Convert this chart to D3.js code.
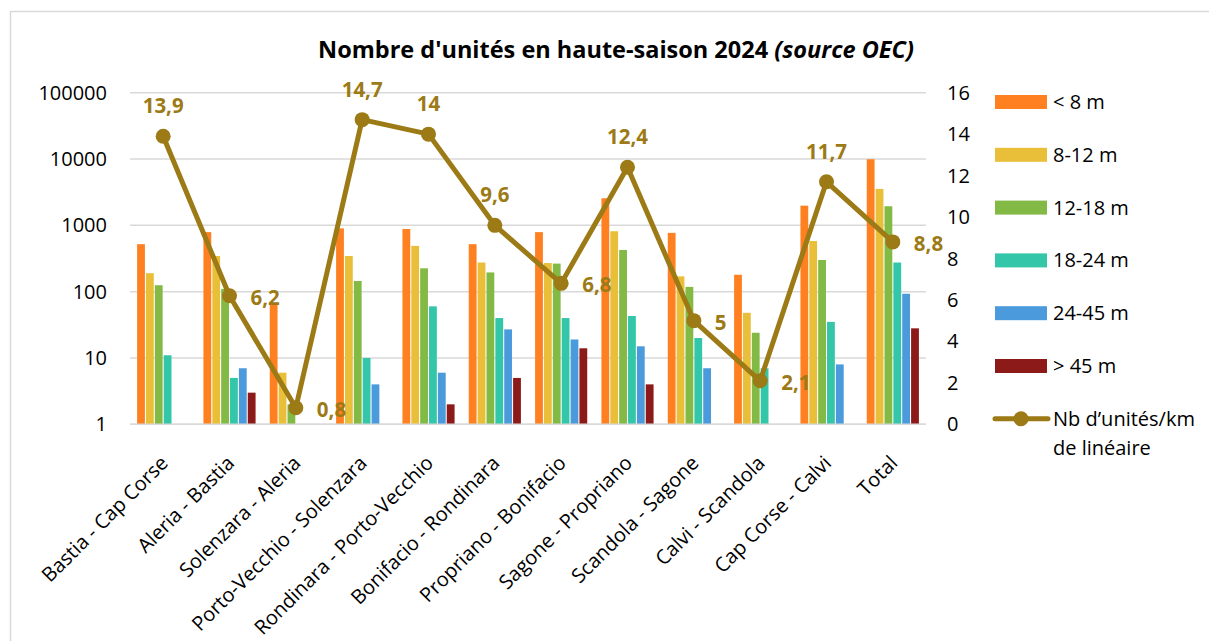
<!DOCTYPE html>
<html>
<head>
<meta charset="utf-8">
<script src="https://cdn.jsdelivr.net/npm/d3@7"></script>
<style>
  body { margin: 0; background: #fff; }
  svg text { font-family: "Open Sans", "Noto Sans", sans-serif; }
</style>
</head>
<body>
<div id="chart"></div>
<script>
"use strict";

// sections of coastline (x categories)
const sections = [
  "Bastia - Cap Corse", "Aleria - Bastia", "Solenzara - Aleria",
  "Porto-Vecchio - Solenzara", "Rondinara - Porto-Vecchio",
  "Bonifacio - Rondinara", "Propriano - Bonifacio", "Sagone - Propriano",
  "Scandola - Sagone", "Calvi - Scandola", "Cap Corse - Calvi", "Total"
];

// boat size classes
const sizeClasses = ["< 8 m", "8-12 m", "12-18 m", "18-24 m", "24-45 m", "> 45 m"];

// number of units per size class (0 = no bar)
const under8 = [520, 790, 65, 900, 880, 520, 790, 2560, 770, 180, 1980, 9930];
const from8to12 = [190, 345, 6, 345, 490, 275, 270, 815, 170, 48, 580, 3540];
const from12to18 = [125, 110, 2, 145, 225, 195, 265, 425, 118, 24, 300, 1940];
const from18to24 = [11, 5, 0, 10, 60, 40, 40, 43, 20, 7, 35, 275];
const from24to45 = [0, 7, 0, 4, 6, 27, 19, 15, 7, 0, 8, 93];
const over45 = [0, 3, 0, 0, 2, 5, 14, 4, 0, 0, 0, 28];

// units per km of coastline (right axis)
const unitsPerKm = [13.9, 6.2, 0.8, 14.7, 14, 9.6, 6.8, 12.4, 5, 2.1, 11.7, 8.8];
// where each data label sits
const labelSide = ["top", "right", "right", "top", "top", "top", "right", "top", "right", "right", "top", "right"];

const leftTicks = [1, 10, 100, 1000, 10000, 100000];
const rightTicks = [0, 2, 4, 6, 8, 10, 12, 14, 16];

const series = [under8, from8to12, from12to18, from18to24, from24to45, over45];
const colors = ["#FF8021", "#E9BF39", "#83BA46", "#34C6A9", "#4B9ADB", "#8B1A18"];
const lineColor = "#9C7A15";

const W = 1209, H = 641;
const plot = { left: 130, right: 926, top: 92.7, bottom: 424.3 };

const svg = d3.select("#chart").append("svg")
  .attr("width", W).attr("height", H);

// chart frame
svg.append("rect")
  .attr("x", 10.5).attr("y", 11.5)
  .attr("width", W + 20).attr("height", H + 20)
  .attr("fill", "none").attr("stroke", "#d9d9d9").attr("stroke-width", 1.5);

// title
const title = svg.append("text")
  .attr("x", 616).attr("y", 58)
  .attr("text-anchor", "middle")
  .style("font-size", "23.5px").style("font-weight", "bold").attr("fill", "#000");
title.append("tspan").text("Nombre d'unités en haute-saison 2024 ");
title.append("tspan").style("font-style", "italic").text("(source OEC)");

///////////////////////////
// scales
///////////////////////////
const x0 = d3.scaleBand().domain(sections).range([plot.left, plot.right]).paddingInner(0).paddingOuter(0);
const x1 = d3.scaleBand().domain(d3.range(sizeClasses.length))
  .range([x0.bandwidth() * 0.107, x0.bandwidth() * 0.893]).paddingInner(0.12);
const yLeft = d3.scaleLog().domain([1, 100000]).range([plot.bottom, plot.top]);
const yRight = d3.scaleLinear().domain([0, 16]).range([plot.bottom, plot.top]);

// gridlines
svg.append("g").selectAll("line")
  .data(leftTicks).enter().append("line")
  .attr("x1", plot.left).attr("x2", plot.right)
  .attr("y1", (d) => yLeft(d)).attr("y2", (d) => yLeft(d))
  .attr("stroke", "#d9d9d9").attr("stroke-width", 1.5);

// left axis labels
svg.append("g").selectAll("text")
  .data(leftTicks).enter().append("text")
  .attr("x", 107).attr("y", (d) => yLeft(d) + 7)
  .attr("text-anchor", "end")
  .style("font-size", "20px").attr("fill", "#000")
  .text((d) => d);

// right axis labels
svg.append("g").selectAll("text")
  .data(rightTicks).enter().append("text")
  .attr("x", 947).attr("y", (d) => yRight(d) + 7)
  .style("font-size", "20px").attr("fill", "#000")
  .text((d) => d);

///////////////////////////
// bars
///////////////////////////
const groups = svg.append("g").selectAll("g")
  .data(sections).enter().append("g")
  .attr("transform", (d) => `translate(${x0(d)},0)`);

groups.selectAll("rect")
  .data((d, i) => series.map((s, k) => ({ k: k, v: s[i] })).filter((b) => b.v > 0))
  .enter().append("rect")
  .attr("x", (b) => x1(b.k))
  .attr("width", x1.bandwidth())
  .attr("y", (b) => yLeft(b.v))
  .attr("height", (b) => yLeft(1) - yLeft(b.v))
  .attr("fill", (b) => colors[b.k]);

// bottom axis line
svg.append("line")
  .attr("x1", plot.left).attr("x2", plot.right)
  .attr("y1", plot.bottom).attr("y2", plot.bottom)
  .attr("stroke", "#d9d9d9").attr("stroke-width", 1.5);

// category labels
svg.append("g").selectAll("text")
  .data(sections).enter().append("text")
  .attr("transform", (d) => `translate(${x0(d) + x0.bandwidth() / 2 + 6},${plot.bottom + 40}) rotate(-45)`)
  .attr("text-anchor", "end")
  .style("font-size", "20px").attr("fill", "#000")
  .text((d) => d);

///////////////////////////
// line series
///////////////////////////
const cx = (i) => x0(sections[i]) + x0.bandwidth() / 2;
const line = d3.line().x((d, i) => cx(i)).y((d) => yRight(d));

svg.append("path")
  .datum(unitsPerKm)
  .attr("d", line)
  .attr("fill", "none").attr("stroke", lineColor)
  .attr("stroke-width", 5).attr("stroke-linejoin", "round");

svg.append("g").selectAll("circle")
  .data(unitsPerKm).enter().append("circle")
  .attr("cx", (d, i) => cx(i)).attr("cy", (d) => yRight(d))
  .attr("r", 7.5).attr("fill", lineColor);

svg.append("g").selectAll("text")
  .data(unitsPerKm).enter().append("text")
  .attr("x", (d, i) => labelSide[i] === "top" ? cx(i) : cx(i) + 21)
  .attr("y", (d, i) => labelSide[i] === "top" ? yRight(d) - 23 : yRight(d) + 9)
  .attr("text-anchor", (d, i) => labelSide[i] === "top" ? "middle" : "start")
  .style("font-size", "20.5px").style("font-weight", "bold").attr("fill", lineColor)
  .text((d) => String(d).replace(".", ","));

///////////////////////////
// legend
///////////////////////////
const legend = svg.append("g");
const legY = (i) => 102 + i * 52.8;

legend.selectAll("rect")
  .data(sizeClasses).enter().append("rect")
  .attr("x", 995).attr("y", (d, i) => legY(i) - 7)
  .attr("width", 52).attr("height", 14)
  .attr("fill", (d, i) => colors[i]);

legend.selectAll("text")
  .data(sizeClasses).enter().append("text")
  .attr("x", 1053).attr("y", (d, i) => legY(i) + 7)
  .style("font-size", "20px").attr("fill", "#000")
  .text((d) => d);

const lineLegY = legY(6);
legend.append("line")
  .attr("x1", 995).attr("x2", 1048).attr("y1", lineLegY).attr("y2", lineLegY)
  .attr("stroke", lineColor).attr("stroke-width", 5).attr("stroke-linecap", "round");
legend.append("circle")
  .attr("cx", 1021).attr("cy", lineLegY).attr("r", 7.5).attr("fill", lineColor);
const lineLabel = legend.append("text")
  .style("font-size", "20px").attr("fill", "#000");
lineLabel.append("tspan").attr("x", 1053).attr("y", lineLegY + 7).text("Nb d’unités/km");
lineLabel.append("tspan").attr("x", 1053).attr("y", lineLegY + 36).text("de linéaire");
</script>
</body>
</html>
